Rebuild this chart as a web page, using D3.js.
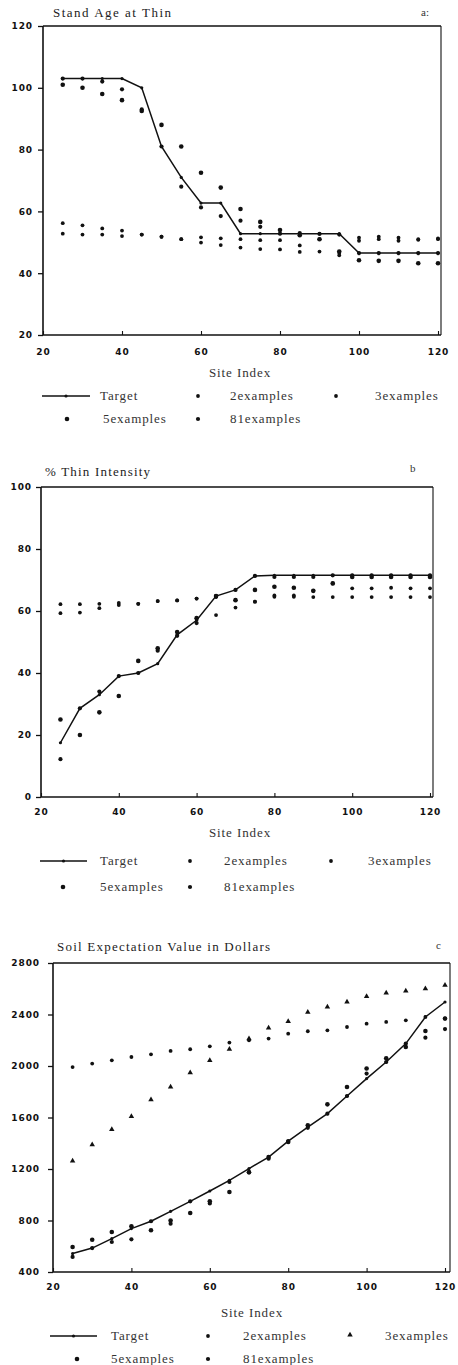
<!DOCTYPE html>
<html><head><meta charset="utf-8">
<script src="https://cdn.jsdelivr.net/npm/d3@7"></script>
<style>body{margin:0;background:#fff}svg{display:block}</style>
</head><body>
<svg id="chart" width="458" height="1365"></svg>
<script>
// ---------- data ----------
const siteIndex = [25,30,35,40,45,50,55,60,65,70,75,80,85,90,95,100,105,110,115,120];
const seriesNames = ["Target","2examples","3examples","5examples","81examples"];
const xTicks = [20,40,60,80,100,120];

// (a) Stand Age at Thin
const ageTicks = [20,40,60,80,100,120];
const ageTarget = [103,103,103,103,100,81,71,62.7,62.7,52.8,52.8,52.8,52.8,52.8,52.8,46.5,46.5,46.5,46.5,46.5];
const age2  = [56.2,55.5,54.5,53.8,52.5,51.8,51,51.6,51.3,51,50.7,50.7,49,51,46.5,51.5,51.8,51.5,50.8,51.3];
const age3  = [52.8,52.5,52.5,52,52.5,51.8,51,49.9,49.1,48.3,47.8,47.7,46.9,47,45.8,50.5,51,50.5,51,51];
const age5  = [101,100,98,96,92.5,88,81,72.5,67.7,60.8,56.6,54,52.3,51,47,44.2,44,44,43.2,43.2];
const age81 = [103,103,102,99.5,93,81,68,61.3,58.5,57,55,52.8,53,52.7,52.5,46.5,46.5,46.5,46.5,46.5];

// (b) % Thin Intensity
const intTicks = [0,20,40,60,80,100];
const intTarget = [17.5,28.6,33,39,40,43,52.3,57,64.8,66.8,71.3,71.5,71.5,71.5,71.5,71.5,71.5,71.5,71.5,71.5];
const int2  = [62.2,62.2,62.3,62.6,62.3,63.2,63.4,64,64.5,63.5,63,64.6,64.6,64.5,64.5,64.5,64.5,64.5,64.5,64.5];
const int3  = [59.3,59.5,60.9,61.9,62.3,63.2,63.4,64,58.7,61.1,63,65,65,66.5,68.9,67.3,67.3,67.5,67.3,67.3];
const int5  = [25,20,27.3,32.6,43.9,48,53.2,57.7,64.8,63.5,66.8,67.8,67.5,66.5,68.9,71,71,71,71,71];
const int81 = [12.2,28.6,34,39,40,47.2,52,56.1,64.8,66.8,71.3,71,71,71,71.5,71.5,71.5,71.5,71.5,71.5];

// (c) Soil Expectation Value in Dollars
const sevTicks = [400,800,1200,1600,2000,2400,2800];
const sevTarget = [543,586,659,737,794,871,949,1029,1112,1203,1293,1417,1526,1630,1767,1902,2031,2174,2381,2497];
const sev2  = [1992,2019,2044,2070,2091,2117,2130,2153,2182,2200,2213,2251,2270,2277,2303,2329,2342,2355,2381,2370];
const sev3  = [1262,1389,1508,1609,1739,1837,1949,2044,2130,2213,2295,2347,2419,2458,2497,2541,2567,2583,2601,2627];
const sev5  = [594,651,711,755,724,800,858,949,1021,1174,1293,1410,1540,1702,1837,1980,2060,2148,2272,2368];
const sev81 = [517,586,633,654,794,775,949,933,1099,1175,1280,1417,1520,1630,1767,1941,2031,2174,2220,2287];

// ---------- layout ----------
const panels = [
  {title:"Stand Age at Thin", tag:"a:", ticks:ageTicks, dom:[20,120],
   series:[ageTarget,age2,age3,age5,age81], tri:false,
   L:{x0:43,x1:438,fr:441,y0:335,y1:26,ylabR:33,tx:53,ty:17,tw:118,tagx:421,tagy:16,
      xpad:14,six:240,siy:377,r1:400,r2:423,
      lx:[42,90],tt:100,m2:198,t2:230,m3:336,t3:375,m5:67,t5:103,m81:198,t81:230}},
  {title:"% Thin Intensity", tag:"b", ticks:intTicks, dom:[0,100],
   series:[intTarget,int2,int3,int5,int81], tri:false,
   L:{x0:41,x1:430,fr:433,y0:797,y1:487,ylabR:32,tx:45,ty:476,tw:105,tagx:410,tagy:472,
      xpad:12,six:240,siy:837,r1:865,r2:891,
      lx:[40,87],tt:100,m2:190,t2:224,m3:331,t3:368,m5:63,t5:100,m81:190,t81:224}},
  {title:"Soil Expectation Value in Dollars", tag:"c", ticks:sevTicks, dom:[400,2800],
   series:[sevTarget,sev2,sev3,sev5,sev81], tri:true,
   L:{x0:53,x1:445,fr:450,y0:1272,y1:963,ylabR:40,tx:57,ty:951,tw:213,tagx:436,tagy:949,
      xpad:12,six:252,siy:1317,r1:1340,r2:1363,
      lx:[50,97],tt:111,m2:208,t2:243,m3:350,t3:385,m5:77,t5:111,m81:208,t81:243}}
];

const svg = d3.select("#chart");
const serif = "'Liberation Serif','DejaVu Serif',serif";
const sans = "'DejaVu Sans',sans-serif";
const ink = "#111";

panels.forEach(p => {
  const L = p.L;
  const g = svg.append("g");
  const x = d3.scaleLinear().domain([20,120]).range([L.x0, L.x1]);
  const y = d3.scaleLinear().domain(p.dom).range([L.y0, L.y1]);

  // frame
  g.append("line").attr("x1",L.x0).attr("x2",L.fr).attr("y1",L.y1).attr("y2",L.y1)
    .attr("stroke",ink).attr("stroke-width",1.6);
  g.append("line").attr("x1",L.fr).attr("x2",L.fr).attr("y1",L.y1).attr("y2",L.y0)
    .attr("stroke",ink).attr("stroke-width",1.1);
  g.append("line").attr("x1",L.x0).attr("x2",L.x0).attr("y1",L.y1).attr("y2",L.y0)
    .attr("stroke",ink).attr("stroke-width",1.6);
  g.append("line").attr("x1",L.x0).attr("x2",L.fr).attr("y1",L.y0).attr("y2",L.y0)
    .attr("stroke",ink).attr("stroke-width",1.6);

  // y axis
  const ya = g.append("g").attr("transform",`translate(${L.x0},0)`)
    .call(d3.axisLeft(y).tickValues(p.ticks).tickSize(5).tickPadding(L.x0-5-L.ylabR).tickFormat(d3.format("d")));
  ya.select(".domain").remove();
  ya.selectAll("line").attr("stroke",ink).attr("stroke-width",1.3);
  ya.selectAll("text").attr("font-family",sans).attr("font-weight","bold")
    .attr("font-size",9).attr("letter-spacing",0.9).attr("fill",ink);

  // x axis
  const xa = g.append("g").attr("transform",`translate(0,${L.y0})`)
    .call(d3.axisBottom(x).tickValues(xTicks).tickSizeInner(-4).tickSizeOuter(0).tickPadding(L.xpad).tickFormat(d3.format("d")));
  xa.select(".domain").remove();
  xa.selectAll("line").attr("stroke",ink).attr("stroke-width",1.1);
  xa.selectAll("text").attr("font-family",sans).attr("font-weight","bold")
    .attr("font-size",9).attr("letter-spacing",0.9).attr("fill",ink);

  // titles
  g.append("text").attr("x",L.tx).attr("y",L.ty).text(p.title)
    .attr("font-family",serif).attr("font-size",13).attr("fill","#222")
    .attr("textLength",L.tw).attr("lengthAdjust","spacing");
  g.append("text").attr("x",L.tagx).attr("y",L.tagy).text(p.tag)
    .attr("font-family",serif).attr("font-size",11).attr("fill","#333");
  g.append("text").attr("x",L.six).attr("y",L.siy).text("Site Index")
    .attr("text-anchor","middle").attr("font-family",serif).attr("font-size",13)
    .attr("letter-spacing",0.9).attr("fill","#333");

  // data: scatter series
  const radii = [0,1.9,1.9,2.3,2.1];
  p.series.forEach((vals, si) => {
    if (si === 0) return;
    const pts = siteIndex.map((s,i)=>[s, vals[i]]);
    if (p.tri && si === 2) {
      g.selectAll(null).data(pts).enter().append("path")
        .attr("d", d3.symbol(d3.symbolTriangle, 13))
        .attr("transform", d=>`translate(${x(d[0])},${y(d[1])})`)
        .attr("fill",ink);
    } else {
      g.selectAll(null).data(pts).enter().append("circle")
        .attr("cx",d=>x(d[0])).attr("cy",d=>y(d[1])).attr("r",radii[si]).attr("fill",ink);
    }
  });
  // target line
  const tpts = siteIndex.map((s,i)=>[s, p.series[0][i]]);
  g.append("path").datum(tpts)
    .attr("d", d3.line().x(d=>x(d[0])).y(d=>y(d[1])))
    .attr("fill","none").attr("stroke",ink).attr("stroke-width",1.5);
  g.selectAll(null).data(tpts).enter().append("circle")
    .attr("cx",d=>x(d[0])).attr("cy",d=>y(d[1])).attr("r",1.6).attr("fill",ink);

  // legend
  const lg = g.append("g");
  const ly1 = L.r1 - 4;
  lg.append("line").attr("x1",L.lx[0]).attr("x2",L.lx[1]).attr("y1",ly1).attr("y2",ly1)
    .attr("stroke",ink).attr("stroke-width",1.5);
  lg.append("circle").attr("cx",(L.lx[0]+L.lx[1])/2).attr("cy",ly1).attr("r",1.6).attr("fill",ink);
  const items = [
    {name:seriesNames[0], tx:L.tt, y:L.r1, m:null},
    {name:seriesNames[1], tx:L.t2, y:L.r1, m:L.m2, si:1},
    {name:seriesNames[2], tx:L.t3, y:L.r1, m:L.m3, si:2},
    {name:seriesNames[3], tx:L.t5, y:L.r2, m:L.m5, si:3},
    {name:seriesNames[4], tx:L.t81, y:L.r2, m:L.m81, si:4}
  ];
  items.forEach(it => {
    lg.append("text").attr("x",it.tx).attr("y",it.y).text(it.name)
      .attr("font-family",serif).attr("font-size",13).attr("letter-spacing",0.9).attr("fill","#333");
    if (it.m !== null) {
      if (p.tri && it.si === 2) {
        lg.append("path").attr("d", d3.symbol(d3.symbolTriangle, 13))
          .attr("transform",`translate(${it.m},${it.y-5})`).attr("fill",ink);
      } else {
        lg.append("circle").attr("cx",it.m).attr("cy",it.y-4).attr("r",radii[it.si]).attr("fill",ink);
      }
    }
  });
});
</script>
</body></html>
